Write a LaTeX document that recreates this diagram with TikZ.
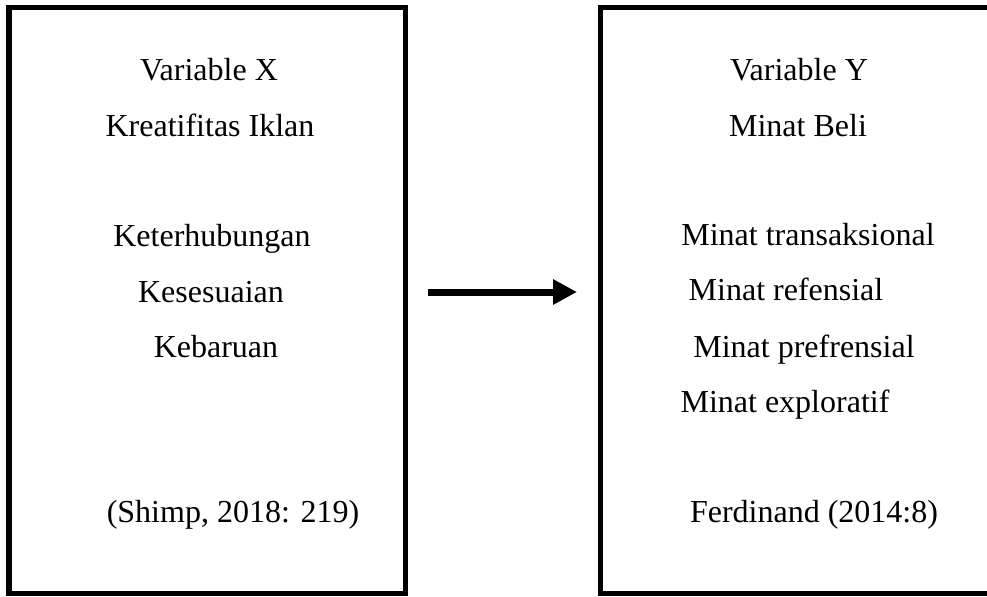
\documentclass[tikz,border=0pt]{standalone}
\usepackage{fontspec}
\setmainfont{Liberation Serif}
\usetikzlibrary{arrows.meta}
\begin{document}
\begin{tikzpicture}[x=0.5pt,y=-0.5pt,>={Triangle[length=12pt,width=12pt]}]
	\tikzset{kotak/.style={draw, line width=2.75pt, minimum width=198.25pt, minimum height=293pt, inner sep=0pt},
		teks/.style={anchor=base, inner sep=0pt, font=\fontsize{16}{19}\selectfont}}
	\useasboundingbox (0,0) rectangle (987,596);
	\node[kotak] (kotakX) at (207.25,300.5) {};
	\node[kotak] (kotakY) at (798.75,300.25) {};
	\foreach \x/\y/\t/\n in {209/80/{Variable X}/varX, 210/136/{Kreatifitas Iklan}/kreatif,
		212/246/{Keterhubungan}/keter, 211/302/{Kesesuaian}/kesesu, 216/357/{Kebaruan}/kebaru,
		233/522/{(Shimp, 2018: 219)}/shimp}
		\node[teks] (\n) at (\x,\y) {\t};
	\foreach \x/\y/\t/\n in {799/80/{Variable Y}/varY, 798/136/{Minat Beli}/minatBeli,
		808/245/{Minat transaksional}/transaksi, 786/300/{Minat refensial}/refensi,
		804/357/{Minat prefrensial}/prefrensi, 785/412/{Minat exploratif}/explor,
		814/522/{Ferdinand (2014:8)}/ferdi}
		\node[teks] (\n) at (\x,\y) {\t};
	\coordinate (panahA) at (428,292);
	\coordinate (panahB) at (577,292);
	\draw[->, line width=3.5pt] (panahA) -- (panahB);
\end{tikzpicture}
\end{document}
